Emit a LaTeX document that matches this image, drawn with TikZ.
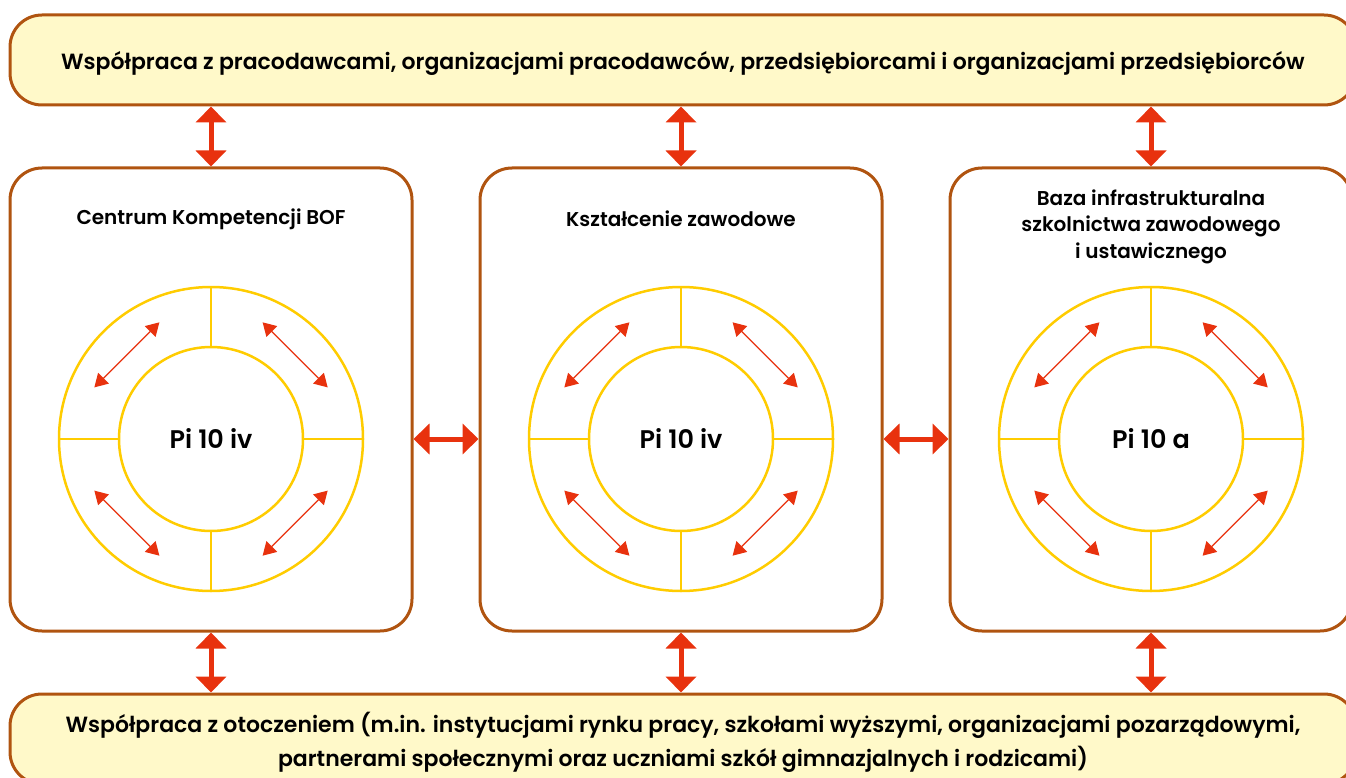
\documentclass[tikz,border=0pt]{standalone}
\usepackage{fontspec}
\setmainfont{Poppins}[BoldFont={Poppins SemiBold}]
\usetikzlibrary{arrows.meta,calc}

\definecolor{bannerfill}{RGB}{255,249,201}
\definecolor{framebrown}{RGB}{176,84,16}
\definecolor{arrowred}{RGB}{232,50,14}
\definecolor{ringyellow}{RGB}{255,204,0}

\tikzset{
  banner/.style={draw=framebrown, line width=3pt, fill=bannerfill, rounded corners=32pt,
    minimum width=1346pt, minimum height=90pt, align=center,
    font=\fontsize{22}{34}\selectfont\bfseries},
  panel/.style={draw=framebrown, line width=3pt, fill=white, rounded corners=32pt,
    minimum width=402pt, minimum height=463pt},
  paneltitle/.style={align=center, font=\fontsize{20}{26.5}\selectfont\bfseries},
  ring/.style={draw=ringyellow, line width=2.5pt, circle, inner sep=0pt},
  spoke/.style={draw=ringyellow, line width=2.5pt},
  bigarrow/.style={draw=arrowred, line width=5pt,
    {Triangle[width=30pt,length=16pt]}-{Triangle[width=30pt,length=16pt]}},
  smallarrow/.style={draw=arrowred, line width=1.2pt,
    {Triangle[width=15pt,length=13pt]}-{Triangle[width=15pt,length=13pt]}},
}

\begin{document}
\begin{tikzpicture}[x=1pt,y=-1pt]
\useasboundingbox (0,0) rectangle (1346,778);
\clip (0,0) rectangle (1346,778);

% Top and bottom banners
\node[banner] (work) at (683,60) {};
\node[banner] (env) at (683,739) {};
\node[font=\fontsize{22}{34}\selectfont\bfseries] (work-text) at (683,63) {Współpraca z pracodawcami, organizacjami pracodawców, przedsiębiorcami i organizacjami przedsiębiorców};
\node[align=center, font=\fontsize{22}{34}\selectfont\bfseries] (env-text) at (683,742) {Współpraca z otoczeniem (m.in. instytucjami rynku pracy, szkołami wyższymi, organizacjami pozarządowymi,\\partnerami społecznymi oraz uczniami szkół gimnazjalnych i rodzicami)};

% The three panels
\node[panel] (bof) at (211,399.5) {};
\node[panel] (voc) at (681,399.5) {};
\node[panel] (infra) at (1151,399.5) {};

% Panel titles
\node[paneltitle] (bof-title) at (211,219) {Centrum Kompetencji BOF};
\node[paneltitle] (voc-title) at (681,219) {Kształcenie zawodowe};
\node[paneltitle] (infra-title) at (1151,226.5) {Baza infrastrukturalna\\szkolnictwa zawodowego\\i ustawicznego};

% Rings with spokes and small arrows
\foreach \p/\x/\t in {bof/211/Pi 10 iv, voc/681/Pi 10 iv, infra/1151/Pi 10 a}{
  \node[ring, minimum size=304pt] (\p-outer) at (\x,439) {};
  \node[ring, minimum size=184pt, font=\fontsize{25.5}{28}\selectfont\bfseries] (\p-inner) at (\x,439) {\t};
  \foreach \a in {0,90,180,270}
    \draw[spoke] (\p-inner.\a) -- (\p-outer.\a);
  \foreach \a in {45,135,225,315}{
    \coordinate (\p-a\a) at ($(\p-inner.center)+(\a:119)+(\a+90:46)$);
    \coordinate (\p-b\a) at ($(\p-inner.center)+(\a:119)+(\a-90:46)$);
    \draw[smallarrow] (\p-a\a) -- (\p-b\a);
  }
}

% Arrows between banners and panels
\foreach \p in {bof,voc,infra}{
  \draw[bigarrow] (work.south -| \p) -- (\p.north);
  \draw[bigarrow] (\p.south) -- (env.north -| \p);
}

% Arrows between panels
\draw[bigarrow] (bof.east |- bof-outer) -- (voc.west |- voc-outer);
\draw[bigarrow] (voc.east |- voc-outer) -- (infra.west |- infra-outer);
\end{tikzpicture}
\end{document}
